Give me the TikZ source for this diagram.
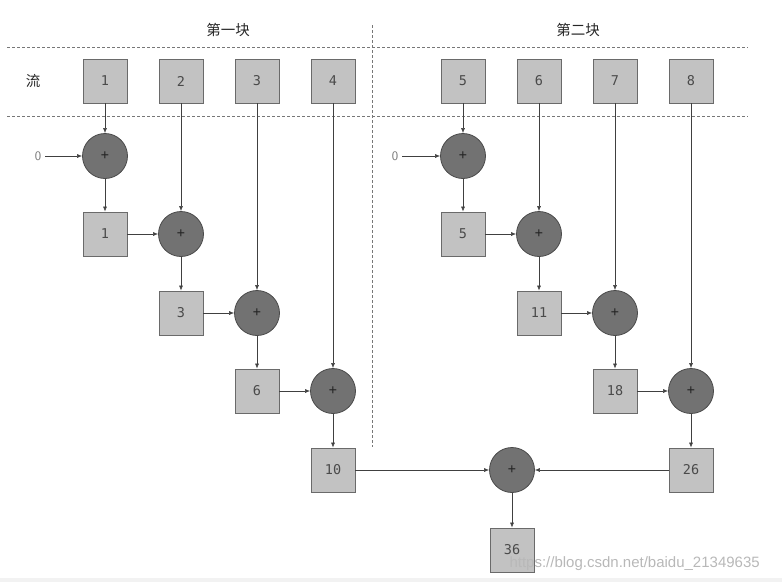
\documentclass[tikz,border=0pt]{standalone}
\usepackage{fontspec}
\setmainfont{DejaVu Sans}
\setmonofont{DejaVu Sans Mono}
\newfontfamily\cjk{Noto Sans CJK SC}
\newfontfamily\wmfont{Liberation Sans}
\usetikzlibrary{positioning,arrows.meta}
\definecolor{BoxFill}{HTML}{C2C2C2}
\definecolor{BoxLine}{HTML}{6A6A6A}
\definecolor{SumFill}{HTML}{727272}
\definecolor{SumLine}{HTML}{4A4A4A}
\definecolor{TextGray}{HTML}{4A4A4A}
\definecolor{GuideGray}{HTML}{777777}

\begin{document}
\begin{tikzpicture}[x=1pt,y=-1pt,
  every node/.style={font=\ttfamily\fontsize{13.5}{13.5}\selectfont, text=TextGray},
  valbox/.style={draw=BoxLine, fill=BoxFill, minimum width=44pt, minimum height=44pt,
    inner sep=0pt, line width=0.8pt},
  sumnode/.style={circle, draw=SumLine, fill=SumFill, minimum size=45pt,
    inner sep=0pt, line width=0.8pt, text=black!85},
  blocktitle/.style={font=\cjk\fontsize{14.5}{14.5}\selectfont, text=black!85},
  flow/.style={-{Latex[length=5pt,width=4pt]}, draw=black!75, line width=0.6pt},
  guide/.style={draw=GuideGray, line width=0.6pt, dash pattern=on 3pt off 2pt}]
  \useasboundingbox (0,0) rectangle (782,582);
  \fill[black!5] (0,578) rectangle (782,582);

  % titles and guides
  \node[blocktitle] (blk1) at (228,30) {第一块};
  \node[blocktitle] (blk2) at (578,30) {第二块};
  \node[blocktitle] (flowlbl) at (33,81) {流};
  \draw[guide] (7,47) -- (748,47);
  \draw[guide] (7,116) -- (748,116);
  \draw[guide] (372,25) -- (372,447);

  % stream
  \foreach \i/\x in {1/105,2/181,3/257,4/333,5/463,6/539,7/615,8/691}
    \node[valbox] (in\i) at (\x,81) {\i};

  % adders
  \foreach \i/\x/\y in {1/105/156,2/181/234,3/257/313,4/333/391,
                        5/463/156,6/539/234,7/615/313,8/691/391}
    \node[sumnode] (s\i) at (\x,\y) {+};

  % running sums
  \foreach \i/\x/\y/\v in {1/105/234/1,2/181/313/3,3/257/391/6,4/333/470/10,
                           5/463/234/5,6/539/313/11,7/615/391/18,8/691/470/26}
    \node[valbox] (p\i) at (\x,\y) {\v};

  \node[font=\sffamily\fontsize{13}{13}\selectfont, text=black!55, inner sep=4pt] (z1) at (38,156) {0};
  \node[font=\sffamily\fontsize{13}{13}\selectfont, text=black!55, inner sep=4pt] (z2) at (395,156) {0};

  \node[sumnode] (tot) at (512,470) {+};
  \node[valbox] (res) at (512,550) {36};

  \foreach \k in {1,...,8}{
    \draw[flow] (in\k) -- (s\k);
    \draw[flow] (s\k) -- (p\k);
  }
  \foreach \a/\b in {1/2,2/3,3/4,5/6,6/7,7/8}
    \draw[flow] (p\a) -- (s\b);
  \draw[flow] (z1) -- (s1);
  \draw[flow] (z2) -- (s5);
  \draw[flow] (p4) -- (tot);
  \draw[flow] (p8) -- (tot);
  \draw[flow] (tot) -- (res);

  \node[anchor=base west, text=black!28, font=\wmfont\fontsize{15}{15}\selectfont]
    (mark) at (506,567) {https://blog.csdn.net/baidu\_21349635};
\end{tikzpicture}
\end{document}
